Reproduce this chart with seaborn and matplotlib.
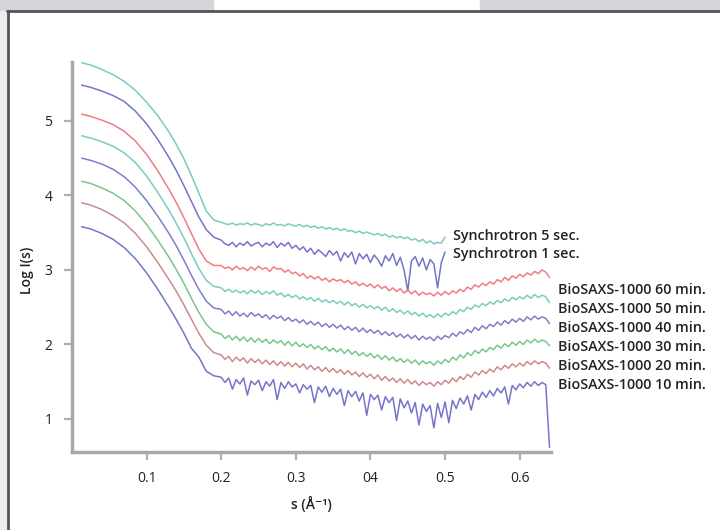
import numpy as np
import pandas as pd
import seaborn as sns
import matplotlib.pyplot as plt
from matplotlib.patches import Rectangle
from matplotlib.lines import Line2D

# s grid (1/A): steep Guinier part + flat/noisy part
s_decay = [0.013, 0.025, 0.04, 0.055, 0.07, 0.085, 0.10, 0.115, 0.13,
           0.14, 0.15, 0.16, 0.17, 0.18, 0.19]
s_flat = [0.200, 0.205, 0.210, 0.215, 0.220, 0.225, 0.230, 0.235, 0.240, 0.245,
          0.250, 0.255, 0.260, 0.265, 0.270, 0.275, 0.280, 0.285, 0.290, 0.295,
          0.300, 0.305, 0.310, 0.315, 0.320, 0.325, 0.330, 0.335, 0.340, 0.345,
          0.350, 0.355, 0.360, 0.365, 0.370, 0.375, 0.380, 0.385, 0.390, 0.395,
          0.400, 0.405, 0.410, 0.415, 0.420, 0.425, 0.430, 0.435, 0.440, 0.445,
          0.450, 0.455, 0.460, 0.465, 0.470, 0.475, 0.480, 0.485, 0.490, 0.495,
          0.500, 0.505, 0.510, 0.515, 0.520, 0.525, 0.530, 0.535, 0.540, 0.545,
          0.550, 0.555, 0.560, 0.565, 0.570, 0.575, 0.580, 0.585, 0.590, 0.595,
          0.600, 0.605, 0.610, 0.615, 0.620, 0.625, 0.630, 0.635, 0.640]

# log I(s)
syn5_decay = [5.78, 5.75, 5.69, 5.62, 5.53, 5.41, 5.25, 5.07, 4.85,
              4.68, 4.49, 4.27, 4.03, 3.79, 3.67]
syn5_flat = [3.64, 3.62, 3.61, 3.63, 3.60, 3.62, 3.61, 3.63, 3.60, 3.62,
             3.61, 3.59, 3.62, 3.60, 3.63, 3.60, 3.61, 3.59, 3.62, 3.60,
             3.59, 3.61, 3.58, 3.60, 3.57, 3.59, 3.56, 3.58, 3.55, 3.57,
             3.54, 3.56, 3.53, 3.55, 3.52, 3.53, 3.50, 3.52, 3.49, 3.51,
             3.49, 3.47, 3.49, 3.46, 3.48, 3.44, 3.46, 3.43, 3.45, 3.42,
             3.44, 3.40, 3.42, 3.38, 3.41, 3.36, 3.39, 3.35, 3.37, 3.36,
             3.44]
syn1_decay = [5.48, 5.45, 5.40, 5.34, 5.26, 5.13, 4.96, 4.75, 4.51,
              4.33, 4.13, 3.92, 3.71, 3.54, 3.44]
syn1_flat = [3.40, 3.35, 3.33, 3.37, 3.31, 3.36, 3.33, 3.38, 3.32, 3.35,
             3.37, 3.31, 3.36, 3.33, 3.38, 3.30, 3.36, 3.32, 3.37, 3.29,
             3.33, 3.27, 3.31, 3.24, 3.29, 3.21, 3.27, 3.23, 3.18, 3.26,
             3.20, 3.25, 3.12, 3.23, 3.17, 3.24, 3.08, 3.22, 3.15, 3.21,
             3.10, 3.20, 3.14, 3.05, 3.19, 3.12, 3.22, 3.06, 3.17, 3.00,
             2.72, 3.12, 3.18, 3.05, 3.16, 3.00, 3.14, 3.08, 2.76, 3.10,
             3.24]
m60_decay = [5.09, 5.06, 5.01, 4.95, 4.86, 4.73, 4.55, 4.33, 4.08,
             3.90, 3.70, 3.49, 3.28, 3.12, 3.06]
m60_flat = [3.06, 3.02, 3.04, 3.00, 3.05, 3.01, 3.03, 2.99, 3.04, 3.00,
            3.05, 3.01, 3.03, 2.98, 3.04, 3.01, 3.02, 2.97, 3.00, 2.95,
            2.97, 2.92, 2.95, 2.89, 2.92, 2.88, 2.91, 2.86, 2.89, 2.84,
            2.88, 2.85, 2.87, 2.83, 2.86, 2.81, 2.84, 2.79, 2.82, 2.78,
            2.81, 2.76, 2.80, 2.75, 2.78, 2.72, 2.76, 2.71, 2.75, 2.69,
            2.73, 2.68, 2.72, 2.66, 2.70, 2.67, 2.69, 2.65, 2.70, 2.66,
            2.71, 2.67, 2.72, 2.69, 2.74, 2.71, 2.77, 2.74, 2.80, 2.77,
            2.82, 2.79, 2.84, 2.81, 2.87, 2.84, 2.90, 2.86, 2.92, 2.89,
            2.94, 2.91, 2.96, 2.93, 2.98, 2.95, 3.00, 2.97, 2.90]
m50_decay = [4.80, 4.77, 4.72, 4.66, 4.57, 4.44, 4.26, 4.04, 3.80,
             3.62, 3.43, 3.22, 3.02, 2.86, 2.78]
m50_flat = [2.76, 2.71, 2.74, 2.70, 2.73, 2.69, 2.72, 2.68, 2.73, 2.69,
            2.72, 2.67, 2.71, 2.68, 2.72, 2.66, 2.69, 2.64, 2.67, 2.63,
            2.66, 2.61, 2.64, 2.60, 2.63, 2.58, 2.62, 2.57, 2.60, 2.56,
            2.59, 2.55, 2.58, 2.53, 2.57, 2.52, 2.55, 2.50, 2.54, 2.49,
            2.52, 2.48, 2.51, 2.46, 2.50, 2.44, 2.48, 2.43, 2.46, 2.41,
            2.45, 2.40, 2.43, 2.38, 2.42, 2.37, 2.40, 2.36, 2.41, 2.37,
            2.42, 2.39, 2.44, 2.41, 2.47, 2.44, 2.50, 2.47, 2.53, 2.50,
            2.55, 2.52, 2.57, 2.54, 2.59, 2.56, 2.61, 2.58, 2.63, 2.60,
            2.64, 2.61, 2.66, 2.62, 2.67, 2.63, 2.66, 2.64, 2.56]
m40_decay = [4.50, 4.47, 4.42, 4.35, 4.25, 4.11, 3.93, 3.72, 3.49,
             3.32, 3.13, 2.93, 2.74, 2.58, 2.49]
m40_flat = [2.47, 2.41, 2.45, 2.39, 2.44, 2.38, 2.42, 2.37, 2.43, 2.38,
            2.41, 2.36, 2.40, 2.34, 2.39, 2.35, 2.38, 2.32, 2.36, 2.31,
            2.34, 2.29, 2.33, 2.27, 2.31, 2.26, 2.30, 2.24, 2.28, 2.23,
            2.27, 2.22, 2.26, 2.20, 2.24, 2.19, 2.23, 2.17, 2.22, 2.16,
            2.20, 2.15, 2.19, 2.13, 2.17, 2.12, 2.16, 2.10, 2.14, 2.09,
            2.13, 2.08, 2.12, 2.06, 2.11, 2.07, 2.10, 2.05, 2.11, 2.07,
            2.12, 2.09, 2.15, 2.11, 2.17, 2.14, 2.20, 2.16, 2.23, 2.19,
            2.25, 2.21, 2.27, 2.24, 2.30, 2.26, 2.32, 2.28, 2.34, 2.30,
            2.35, 2.31, 2.37, 2.33, 2.38, 2.34, 2.37, 2.35, 2.28]
m30_decay = [4.19, 4.16, 4.10, 4.03, 3.93, 3.79, 3.61, 3.40, 3.17,
             3.00, 2.82, 2.62, 2.43, 2.27, 2.17]
m30_flat = [2.14, 2.08, 2.12, 2.06, 2.11, 2.05, 2.10, 2.04, 2.09, 2.03,
            2.08, 2.03, 2.07, 2.01, 2.06, 2.02, 2.05, 1.99, 2.04, 1.98,
            2.03, 1.97, 2.01, 1.96, 2.00, 1.94, 1.98, 1.93, 1.97, 1.91,
            1.95, 1.90, 1.94, 1.88, 1.93, 1.87, 1.91, 1.85, 1.89, 1.84,
            1.88, 1.82, 1.86, 1.80, 1.85, 1.79, 1.83, 1.77, 1.81, 1.76,
            1.80, 1.75, 1.79, 1.73, 1.78, 1.74, 1.77, 1.72, 1.78, 1.74,
            1.80, 1.76, 1.83, 1.79, 1.86, 1.82, 1.89, 1.85, 1.92, 1.88,
            1.94, 1.90, 1.96, 1.93, 1.99, 1.95, 2.01, 1.97, 2.03, 1.99,
            2.04, 2.00, 2.06, 2.02, 2.07, 2.03, 2.06, 2.04, 1.98]
m20_decay = [3.90, 3.87, 3.81, 3.73, 3.63, 3.49, 3.31, 3.10, 2.87,
             2.71, 2.53, 2.34, 2.15, 1.99, 1.89]
m20_flat = [1.86, 1.80, 1.84, 1.77, 1.83, 1.78, 1.82, 1.75, 1.81, 1.76,
            1.80, 1.74, 1.79, 1.73, 1.78, 1.72, 1.77, 1.71, 1.76, 1.70,
            1.75, 1.69, 1.74, 1.67, 1.72, 1.66, 1.70, 1.64, 1.69, 1.63,
            1.68, 1.62, 1.66, 1.60, 1.65, 1.59, 1.63, 1.57, 1.62, 1.56,
            1.60, 1.54, 1.59, 1.52, 1.57, 1.51, 1.55, 1.49, 1.54, 1.48,
            1.53, 1.47, 1.51, 1.45, 1.50, 1.46, 1.49, 1.44, 1.50, 1.46,
            1.52, 1.48, 1.55, 1.50, 1.57, 1.53, 1.60, 1.56, 1.63, 1.59,
            1.65, 1.61, 1.67, 1.63, 1.70, 1.66, 1.72, 1.68, 1.74, 1.70,
            1.75, 1.71, 1.77, 1.73, 1.78, 1.74, 1.77, 1.75, 1.68]
m10_decay = [3.58, 3.55, 3.49, 3.41, 3.30, 3.15, 2.96, 2.74, 2.50,
             2.33, 2.15, 1.95, 1.83, 1.64, 1.58]
m10_flat = [1.56, 1.49, 1.55, 1.40, 1.53, 1.47, 1.55, 1.32, 1.51, 1.46,
            1.52, 1.38, 1.50, 1.44, 1.53, 1.26, 1.49, 1.41, 1.50, 1.43,
            1.47, 1.35, 1.46, 1.40, 1.45, 1.22, 1.43, 1.36, 1.44, 1.30,
            1.41, 1.33, 1.40, 1.18, 1.38, 1.30, 1.37, 1.24, 1.35, 1.05,
            1.33, 1.26, 1.32, 1.12, 1.30, 1.22, 1.29, 0.98, 1.27, 1.15,
            1.24, 1.08, 1.22, 0.92, 1.20, 1.10, 1.18, 0.88, 1.21, 1.02,
            1.23, 0.95, 1.25, 1.14, 1.28, 1.20, 1.31, 1.12, 1.33, 1.26,
            1.36, 1.29, 1.38, 1.31, 1.41, 1.35, 1.43, 1.20, 1.45, 1.39,
            1.47, 1.42, 1.49, 1.44, 1.50, 1.45, 1.49, 1.46, 0.62]

names = ["Synchrotron 5 sec.", "Synchrotron 1 sec.",
         "BioSAXS-1000 60 min.", "BioSAXS-1000 50 min.",
         "BioSAXS-1000 40 min.", "BioSAXS-1000 30 min.",
         "BioSAXS-1000 20 min.", "BioSAXS-1000 10 min."]
colors = ["#74c9bf", "#6d6ec6", "#f1747f", "#74c9bf",
          "#7b76c8", "#74c287", "#c98486", "#6d6ec6"]
curves = [(syn5_decay, syn5_flat), (syn1_decay, syn1_flat),
          (m60_decay, m60_flat), (m50_decay, m50_flat),
          (m40_decay, m40_flat), (m30_decay, m30_flat),
          (m20_decay, m20_flat), (m10_decay, m10_flat)]

# label anchor points (s, log I)
label_x = [0.511, 0.511, 0.651, 0.651, 0.651, 0.651, 0.651, 0.651]
label_y = [3.46, 3.22, 2.73, 2.48, 2.22, 1.97, 1.71, 1.46]

rows = []
for name, (dec, flat) in zip(names, curves):
    s = s_decay + s_flat[:len(flat)]
    rows.append(pd.DataFrame({"s": s, "logI": dec + flat, "sample": name}))
df = pd.concat(rows, ignore_index=True)

sns.set_style("white")
plt.rcParams["font.family"] = ["Open Sans", "DejaVu Sans"]

fig = plt.figure(figsize=(7.2, 5.3), dpi=100)
ax = fig.add_axes([72 / 720, 1 - 452 / 530, (551 - 72) / 720, (452 - 62) / 530])

sns.lineplot(data=df, x="s", y="logI", hue="sample", palette=colors,
             hue_order=names, estimator=None, sort=False, legend=False,
             linewidth=1.1, alpha=0.95, ax=ax)

ax.set_xlim(0, 0.642)
ax.set_ylim(0.557, 5.79)
ax.set_xticks([0.1, 0.2, 0.3, 0.4, 0.5, 0.6])
ax.set_xticklabels(["0.1", "0.2", "0.3", "04", "0.5", "0.6"])
ax.set_yticks([1, 2, 3, 4, 5])
ax.set_yticklabels(["1", "2", "3", "4", "5"])
for side in ["top", "right"]:
    ax.spines[side].set_visible(False)
for side in ["left", "bottom"]:
    ax.spines[side].set_color("#a8a8a8")
    ax.spines[side].set_linewidth(2.5)
ax.tick_params(axis="both", direction="out", length=6, width=1.6,
               color="#b0b0b0", labelsize=10, labelcolor="#222222", pad=8,
               left=True, bottom=True)

ax.set_xlabel("s (Å⁻¹)", fontsize=10, fontweight="semibold",
              color="#222222", labelpad=7)
ax.set_ylabel("")
fig.text(27 / 720, 1 - 270 / 530, "Log I(s)", rotation=90, ha="center",
         va="center", fontsize=10, fontweight="semibold", color="#222222")

for name, lx, ly in zip(names, label_x, label_y):
    ax.text(lx, ly, name, fontsize=10.3, fontweight="semibold",
            color="#222222", ha="left", va="center", clip_on=False)

# page frame around the figure
fig.patches.append(Rectangle((0, 1 - 11 / 530), 213 / 720, 11 / 530,
                             transform=fig.transFigure, color="#d6d6da", zorder=0))
fig.patches.append(Rectangle((480 / 720, 1 - 11 / 530), 240 / 720, 11 / 530,
                             transform=fig.transFigure, color="#d6d6da", zorder=0))
fig.patches.append(Rectangle((0, 0), 7 / 720, 1 - 11 / 530,
                             transform=fig.transFigure, color="#ececee", zorder=0))
fig.lines.append(Line2D([8 / 720, 8 / 720], [0, 1 - 11 / 530],
                        transform=fig.transFigure, color="#555555", linewidth=2))
fig.lines.append(Line2D([7 / 720, 1], [1 - 11 / 530, 1 - 11 / 530],
                        transform=fig.transFigure, color="#555555", linewidth=2))

fig.savefig("out.png", dpi=100)
